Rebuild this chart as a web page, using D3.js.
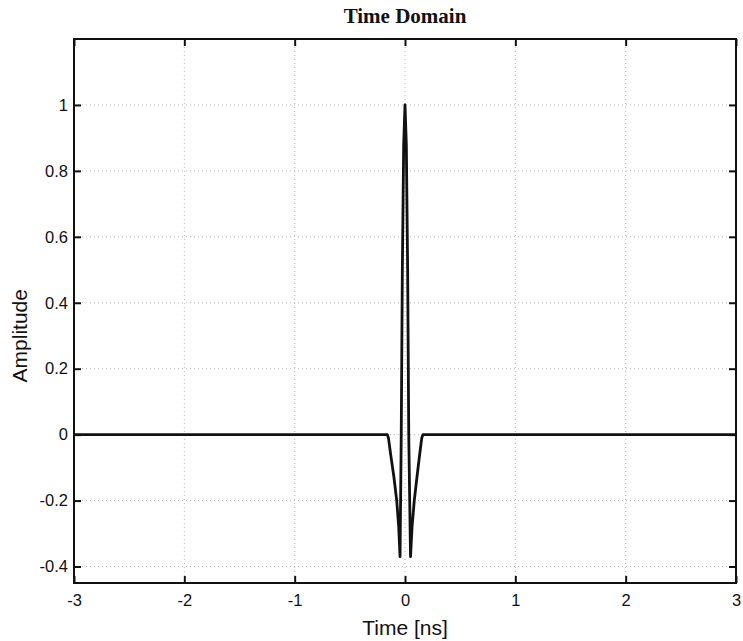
<!DOCTYPE html>
<html>
<head>
<meta charset="utf-8">
<script src="https://cdn.jsdelivr.net/npm/d3@7"></script>
<style>
  body { margin: 0; background: #fff; }
  svg text { fill: #111; }
</style>
</head>
<body>
<svg width="743" height="641"></svg>
<script>
// pulse samples (time in ns, amplitude)
const time = [-3, -0.16, -0.15, -0.13, -0.10, -0.075, -0.057, -0.045, -0.034, -0.024, -0.012, 0,
  0.012, 0.024, 0.034, 0.05, 0.064, 0.084, 0.108, 0.133, 0.152, 0.162, 3]
const amplitude = [0, 0, -0.01, -0.06, -0.13, -0.2, -0.28, -0.37, 0, 0.5, 0.88, 1,
  0.88, 0.5, 0, -0.37, -0.28, -0.2, -0.13, -0.06, -0.01, 0, 0]
const xTicks = [-3, -2, -1, 0, 1, 2, 3]
const yTicks = [-0.4, -0.2, 0, 0.2, 0.4, 0.6, 0.8, 1]
const xDomain = [-3, 3]
const yDomain = [-0.45, 1.2]

const svg = d3.select('svg')
const m = { top: 39, right: 7, bottom: 58, left: 74 }
const W = 743, H = 641
const w = W - m.left - m.right
const h = H - m.top - m.bottom

const x = d3.scaleLinear().domain(xDomain).range([0, w])
const y = d3.scaleLinear().domain(yDomain).range([h, 0])

const g = svg.append('g').attr('transform', `translate(${m.left},${m.top})`)

// dotted grid
g.append('g').selectAll('line').data(xTicks.slice(1, -1)).join('line')
  .attr('x1', d => x(d)).attr('x2', d => x(d)).attr('y1', 0).attr('y2', h)
  .attr('stroke', '#b8b8b8').attr('stroke-width', 1).attr('stroke-dasharray', '1,3')
g.append('g').selectAll('line').data(yTicks).join('line')
  .attr('x1', 0).attr('x2', w).attr('y1', d => y(d)).attr('y2', d => y(d))
  .attr('stroke', '#b8b8b8').attr('stroke-width', 1).attr('stroke-dasharray', '1,3')

// the pulse
const line = d3.line().x((d, i) => x(time[i])).y(d => y(d))
g.append('path').datum(amplitude)
  .attr('d', line)
  .attr('fill', 'none').attr('stroke', '#111').attr('stroke-width', 2.8)
  .attr('stroke-linejoin', 'round')

// axes, ticks pointing inwards on all four sides
const tick = 7
const fmt = d => String(+d.toFixed(1))   // plain hyphen minus like the original
const xb = d3.axisBottom(x).tickValues(xTicks).tickSize(-tick).tickPadding(11).tickFormat(fmt)
const xt = d3.axisTop(x).tickValues(xTicks).tickSize(-tick).tickFormat('')
const yl = d3.axisLeft(y).tickValues(yTicks).tickSize(-tick).tickPadding(6).tickFormat(fmt)
const yr = d3.axisRight(y).tickValues(yTicks).tickSize(-tick).tickFormat('')

const axes = [
  g.append('g').attr('transform', `translate(0,${h})`).call(xb),
  g.append('g').call(xt),
  g.append('g').call(yl),
  g.append('g').attr('transform', `translate(${w},0)`).call(yr)
]
axes.forEach(a => {
  a.select('.domain').remove()
  a.selectAll('.tick line').attr('stroke', '#111').attr('stroke-width', 2)
  a.selectAll('text').attr('font-family', 'Liberation Sans, Arial, sans-serif')
    .attr('font-size', 16.5).attr('fill', '#111')
})

g.append('rect').attr('width', w).attr('height', h)
  .attr('fill', 'none').attr('stroke', '#111').attr('stroke-width', 2)

// labels
svg.append('text').attr('x', m.left + w / 2).attr('y', 23)
  .attr('text-anchor', 'middle')
  .attr('font-family', 'Liberation Serif, Times New Roman, serif')
  .attr('font-weight', 'bold').attr('font-size', 21)
  .text('Time Domain')
svg.append('text').attr('x', m.left + w / 2).attr('y', 635)
  .attr('text-anchor', 'middle')
  .attr('font-family', 'Liberation Sans, Arial, sans-serif').attr('font-size', 21)
  .text('Time [ns]')
svg.append('text').attr('transform', `translate(27,${m.top + y(0.3)}) rotate(-90)`)
  .attr('text-anchor', 'middle')
  .attr('font-family', 'Liberation Sans, Arial, sans-serif').attr('font-size', 21)
  .text('Amplitude')
</script>
</body>
</html>
